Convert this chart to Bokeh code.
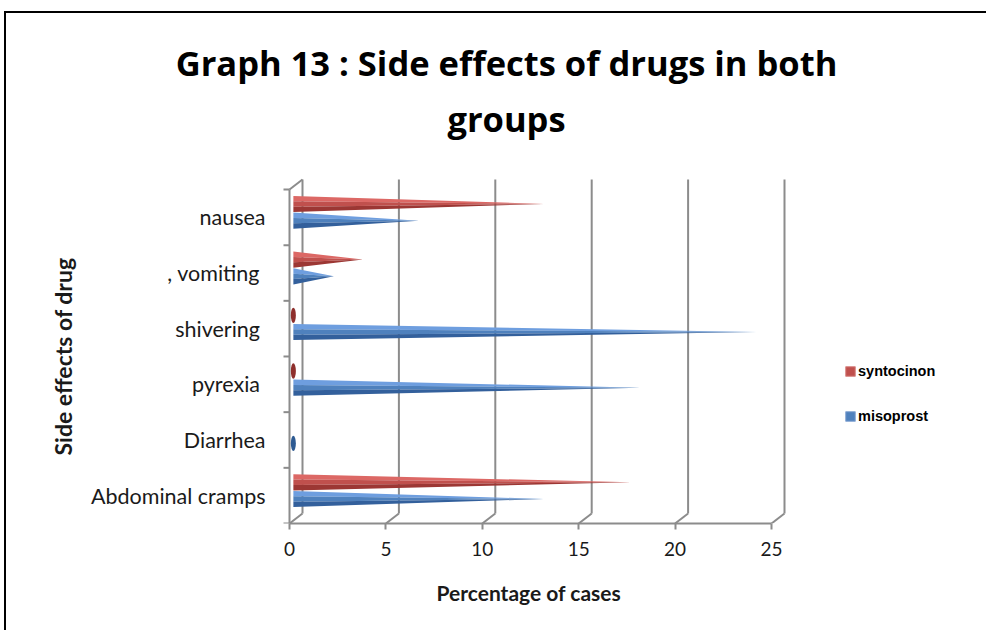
import math
from bokeh.plotting import figure
from bokeh.models import (Range1d, FixedTicker, Title, Legend, LegendItem, Label)
from bokeh.core.properties import value
from bokeh.embed import file_html
from bokeh.resources import INLINE

# ---- data ----
categories = ["Abdominal cramps", "Diarrhea", "pyrexia ", "shivering ", ", vomiting ", "nausea"]
syntocinon = [17.5, None, 0, 0, 3.6, 13]
misoprost = [13, 0, 18, 24, 2.1, 6.5]
x_ticks = [0, 5, 10, 15, 20, 25]
title_lines = ["Graph 13 : Side effects of drugs in both", "groups"]

# ---- style constants ----
PX_X = 19.28          # pixels per x unit
PX_Y = 55.67          # pixels per category band
DX = 13 / PX_X        # 3D depth offset (x)
DY = 10 / PX_Y        # 3D depth offset (y)
X0 = 0.2              # cone base offset
H = 0.145             # cone half-height
OFF = {"syn": 0.24, "mis": -0.06}
COL = {"syn": ("#dc6865", "#c0504d", "#9c3734", "#8e2f2c", "#C0504D"),
       "mis": ("#6e9edf", "#4f81bd", "#33609c", "#2d5a92", "#4F81BD")}
GRID = "#8c8c8c"
TXT = "#1a1a1a"
NAN = float("nan")

AXIS_LEFT = 283       # px from frame left to the value-axis zero
FRAME_W = 967
FRAME_H = 510
p = figure(width=982, height=619, output_backend="svg", toolbar_location=None,
           x_range=Range1d(-AXIS_LEFT / PX_X, (FRAME_W - AXIS_LEFT) / PX_X),
           y_range=Range1d(0, FRAME_H / PX_Y),
           min_border_left=0, min_border_right=15, min_border_top=0, min_border_bottom=109)
p.outline_line_color = None
p.xgrid.visible = False
p.ygrid.visible = False
p.yaxis.visible = False
p.background_fill_color = "white"
p.border_fill_color = "white"
p.styles = {"border-top": "2px solid black", "border-left": "2px solid black",
            "margin-top": "11px", "margin-left": "4px"}

n = len(categories)
# ---- 3D-ish grid (back wall) ----
p.segment(x0=[t + DX for t in x_ticks], y0=[DY] * len(x_ticks),
          x1=[t + DX for t in x_ticks], y1=[n + DY] * len(x_ticks),
          line_color=GRID, line_width=2)
p.segment(x0=x_ticks, y0=[0] * len(x_ticks),
          x1=[t + DX for t in x_ticks], y1=[DY] * len(x_ticks),
          line_color=GRID, line_width=2)
p.segment(x0=[0], y0=[n], x1=[DX], y1=[n + DY], line_color=GRID, line_width=2)

# ---- category axis (drawn in the frame) ----
p.segment(x0=[0], y0=[0], x1=[0], y1=[n], line_color=GRID, line_width=2)
p.segment(x0=[-6 / PX_X] * (n + 1), y0=list(range(n + 1)),
          x1=[0] * (n + 1), y1=list(range(n + 1)), line_color=GRID, line_width=2)
p.text(x=[-24 / PX_X] * n, y=[i + 0.5 for i in range(n)], text=categories,
       text_align="right", text_baseline="middle", text_font=value("Lato"),
       text_font_size="21.5px", text_color=TXT)

# ---- cones (three shaded strips each) ----
def add_series(vals, key):
    strips = [[[], []], [[], []], [[], []]]
    ex, ey = [], []
    for i, v in enumerate(vals):
        if v is None:
            continue
        yc = i + 0.5 + OFF[key]
        if v > 0:
            edges = [yc + H, yc + H / 3, yc - H / 3, yc - H]
            for k in range(3):
                strips[k][0].append([X0, X0, X0 + v])
                strips[k][1].append([edges[k], edges[k + 1], yc])
        else:
            ex.append(X0); ey.append(yc)
    for k in range(3):
        p.patches(xs=strips[k][0], ys=strips[k][1], fill_color=COL[key][k], line_color=None)
    if ex:
        p.ellipse(x=ex, y=ey, width=5 / PX_X, height=2 * H * 0.95,
                  fill_color=COL[key][3], line_color=None)

add_series(syntocinon, "syn")
add_series(misoprost, "mis")

# legend renderers (legend swatches only)
r_syn = p.quad(left=[NAN], right=[NAN], top=[NAN], bottom=[NAN],
               fill_color=COL["syn"][4], line_color="#d98a88")
r_mis = p.quad(left=[NAN], right=[NAN], top=[NAN], bottom=[NAN],
               fill_color=COL["mis"][4], line_color="#8aa9d6")
legend = Legend(items=[LegendItem(label="syntocinon", renderers=[r_syn]),
                       LegendItem(label="misoprost", renderers=[r_mis])],
                location=(AXIS_LEFT + 555, 99), orientation="vertical",
                glyph_width=12, glyph_height=12, label_height=12, spacing=29,
                label_standoff=2, padding=0, margin=0,
                label_text_font="Liberation Sans", label_text_font_style="bold",
                label_text_font_size="14.5px", label_text_color="black",
                border_line_color=None, background_fill_alpha=0)
p.add_layout(legend)

# ---- value axis ----
xa = p.xaxis[0]
xa.ticker = FixedTicker(ticks=x_ticks)
xa.bounds = (0, 25)
xa.axis_line_color = GRID
xa.axis_line_width = 2
xa.major_tick_line_color = GRID
xa.major_tick_line_width = 2
xa.major_tick_out = 6
xa.major_tick_in = 0
xa.minor_tick_line_color = None
xa.major_label_text_font = "Lato"
xa.major_label_text_font_size = "19px"
xa.major_label_text_color = TXT
xa.major_label_standoff = 12

# axis titles
p.add_layout(Title(text="Percentage of cases", align="left", offset=AXIS_LEFT + 147,
                   text_font="Lato", text_font_style="bold", text_font_size="21px",
                   standoff=39, text_color=TXT), "below")
p.add_layout(Label(x=56, y=167, x_units="screen", y_units="screen",
                   text="Side effects of drug", angle=math.pi / 2,
                   text_align="center", text_baseline="middle",
                   text_font="Lato", text_font_style="bold", text_font_size="23px",
                   text_color=TXT))

# ---- chart title (two centred lines) ----
for line, ys in zip(title_lines, [461, 405]):
    p.add_layout(Label(x=500, y=ys, x_units="screen", y_units="screen", text=line,
                       text_align="center", text_baseline="middle",
                       text_font="Open Sans", text_font_style="bold",
                       text_font_size="34.5px", text_color="black"))

open("out.html", "w").write(file_html(p, INLINE))
